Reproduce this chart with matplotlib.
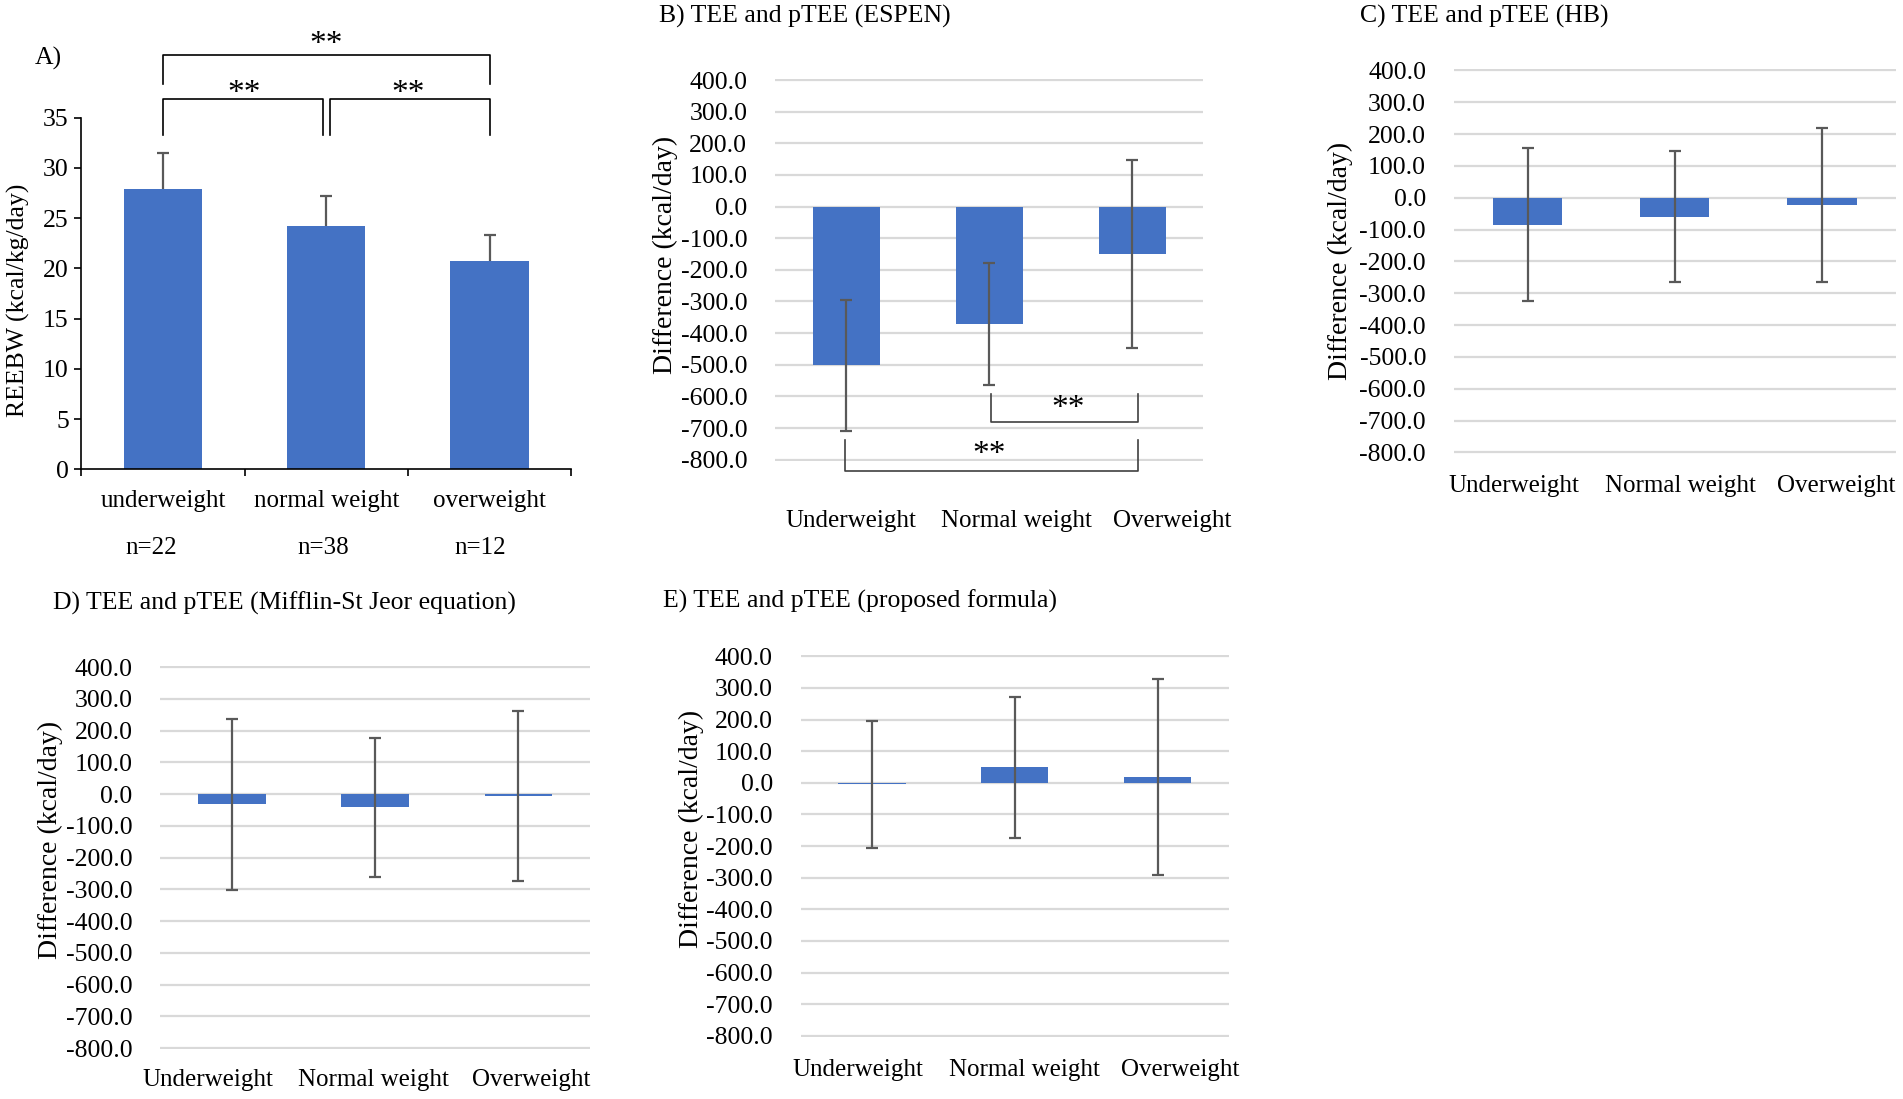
import matplotlib.pyplot as plt

plt.rcParams['font.family'] = 'Liberation Serif'
plt.rcParams['axes.unicode_minus'] = False

# ---- data ----
groups_a = ['underweight', 'normal weight', 'overweight']
n_labels = ['n=22', 'n=38', 'n=12']
reebw_mean = [27.9, 24.2, 20.7]
reebw_sd = [3.6, 3.0, 2.6]

groups = ['Underweight', 'Normal weight', 'Overweight']
espen_mean = [-502, -371, -149]
espen_sd = [207, 193, 297]
hb_mean = [-85, -60, -23]
hb_sd = [240, 206, 241]
msj_mean = [-32, -42, -7]
msj_sd = [269, 218, 268]
prop_mean = [-5, 49, 17]
prop_sd = [201, 222, 310]

diff_ticks = [400, 300, 200, 100, 0, -100, -200, -300, -400, -500, -600, -700, -800]
reebw_ticks = [0, 5, 10, 15, 20, 25, 30, 35]

BLUE = '#4472C4'
ERR = '#595959'
GRID = '#D9D9D9'

fig = plt.figure(figsize=(19.03, 10.99), dpi=100)


def diff_panel(rect, title, title_xy, means, sds, label_pos, xpad, ylab_xy):
    ax = fig.add_axes(rect)
    x = list(range(len(means)))
    ax.set_axisbelow(True)
    ax.bar(x, means, width=0.47, color=BLUE, zorder=2)
    ax.errorbar(x, means, yerr=sds, fmt='none', ecolor=ERR, elinewidth=1.6,
                capsize=4, capthick=1.6, zorder=3)
    ax.set_xlim(-0.5, 2.5)
    ax.set_ylim(-804, 404)
    ax.set_yticks(diff_ticks)
    ax.set_yticklabels([f'{v:.1f}' for v in diff_ticks])
    ax.yaxis.grid(True, color=GRID, lw=1.6)
    for s in ax.spines.values():
        s.set_visible(False)
    ax.tick_params(axis='y', length=0, pad=20, labelsize=18.5)
    ax.set_xticks(label_pos)
    ax.set_xticklabels(groups, fontsize=18)
    ax.tick_params(axis='x', length=0, pad=xpad)
    ax.set_ylabel('Difference (kcal/day)', fontsize=20, va='center')
    ax.yaxis.set_label_coords(*ylab_xy)
    fig.text(title_xy[0], title_xy[1], title, fontsize=18.5, ha='left', va='center')
    return ax


# ---- A) REEBW ----
axA = fig.add_axes([0.0427, 0.5728, 0.2575, 0.3201])
xa = [0, 1, 2]
axA.bar(xa, reebw_mean, width=0.48, color=BLUE, zorder=2)
eb = axA.errorbar(xa, reebw_mean, yerr=[[0, 0, 0], reebw_sd], fmt='none', ecolor=ERR,
                  elinewidth=1.6, capsize=4, capthick=1.6, zorder=3)
eb[1][0].set_visible(False)  # only the upper cap, like the original
axA.set_xlim(-0.5, 2.5)
axA.set_ylim(0, 35)
axA.set_yticks(reebw_ticks)
axA.tick_params(axis='y', direction='out', length=5, width=1.2, pad=4, labelsize=18.5)
axA.set_xticks([-0.5, 0.5, 1.5, 2.5])
axA.set_xticklabels([])
axA.set_xticks(xa, minor=True)
axA.set_xticklabels(groups_a, minor=True, fontsize=18)
axA.tick_params(axis='x', which='major', direction='out', length=5, width=1.2)
axA.tick_params(axis='x', which='minor', length=0, pad=15)
axA.spines['top'].set_visible(False)
axA.spines['right'].set_visible(False)
axA.spines['left'].set_linewidth(1.2)
axA.spines['bottom'].set_linewidth(1.2)
axA.set_ylabel('REEBW (kcal/kg/day)', fontsize=18.5, va='center')
axA.yaxis.set_label_coords(-0.129, 0.482)
for xp, lab in zip([-0.07, 0.98, 1.94], n_labels):
    axA.text(xp, -0.222, lab, fontsize=18, ha='center', va='center',
             transform=axA.get_xaxis_transform())
fig.text(0.0181, 0.9468, 'A)', fontsize=18.5, ha='left', va='center')

# significance brackets for A
br = dict(color='black', lw=1.2, clip_on=False)
axA.plot([0, 0, 2, 2], [38.4, 41.2, 41.2, 38.4], **br)
axA.plot([0, 0, 0.98, 0.98], [33.3, 36.9, 36.9, 33.3], **br)
axA.plot([1.02, 1.02, 2, 2], [33.3, 36.9, 36.9, 33.3], **br)
star = dict(fontsize=24, ha='center', va='center', clip_on=False)
axA.text(1.0, 42.3, '**', **star)
axA.text(0.5, 37.4, '**', **star)
axA.text(1.5, 37.4, '**', **star)

# ---- B) ESPEN ----
axB = diff_panel([0.4073, 0.5806, 0.2251, 0.3477], 'B) TEE and pTEE (ESPEN)',
                 (0.3463, 0.985), espen_mean, espen_sd, [0.03, 1.19, 2.28], 35,
                 (-0.256, 0.54))
brB = dict(color='#404040', lw=1.2, clip_on=False)
axB.plot([1.01, 1.01, 2.04, 2.04], [-592, -682, -682, -592], **brB)
axB.plot([-0.01, -0.01, 2.04, 2.04], [-739, -835, -835, -739], **brB)
axB.text(1.55, -640, '**', **star)
axB.text(1.0, -785, '**', **star)

# ---- C) HB ----
diff_panel([0.7640, 0.5872, 0.2321, 0.3499], 'C) TEE and pTEE (HB)',
           (0.7149, 0.985), hb_mean, hb_sd, [-0.09, 1.04, 2.10], 15,
           (-0.256, 0.50))

# ---- D) Mifflin-St Jeor ----
diff_panel([0.0842, 0.04525, 0.2258, 0.3488], 'D) TEE and pTEE (Mifflin-St Jeor equation)',
           (0.0277, 0.4514), msj_mean, msj_sd, [-0.17, 0.99, 2.09], 14,
           (-0.256, 0.546))

# ---- E) proposed formula ----
diff_panel([0.4207, 0.0563, 0.2251, 0.3477], 'E) TEE and pTEE (proposed formula)',
           (0.3482, 0.4525), prop_mean, prop_sd, [-0.10, 1.07, 2.16], 16,
           (-0.255, 0.544))

fig.savefig('out.png', dpi=100)
